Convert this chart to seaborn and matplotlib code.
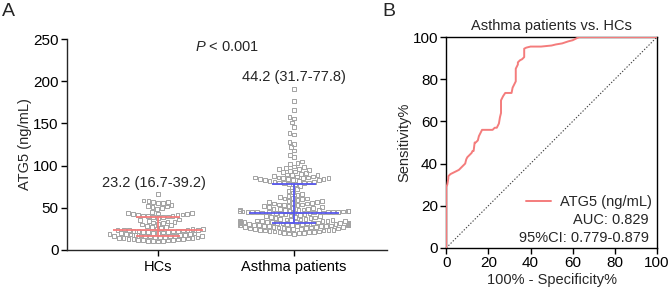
import matplotlib
matplotlib.use("Agg")
import matplotlib.pyplot as plt
import seaborn as sns
import pandas as pd
import numpy as np

# ---------------- data ----------------
groups = ["HCs", "Asthma patients"]

hcs_values = [
    66.0,
    58.5, 57.9, 57.2, 56.8, 56.1, 55.4,
    53.0, 52.1, 51.4, 50.6, 49.8, 48.7,
    44.6, 44.1, 43.7, 43.2, 42.8, 42.4, 42.0, 41.6, 41.2, 40.9, 40.5, 40.1, 39.8, 39.5,
    39.2, 37.5, 36.0, 35.2, 34.6, 33.8, 33.1, 32.5, 31.9, 31.0, 30.2, 29.4, 28.5,
    27.6, 26.8, 26.0, 25.4, 25.0, 24.7, 24.4, 24.1, 23.8, 23.5, 23.3,
    23.1, 22.8, 22.5, 22.2, 21.9, 21.6, 21.3, 21.0, 20.7, 20.4, 20.1, 19.8, 19.5,
    19.2, 18.9, 18.6, 18.3, 18.0, 17.7, 17.4, 17.1, 16.9, 16.8, 16.7,
    16.5, 16.2, 15.9, 15.6, 15.3, 15.0, 14.7, 14.4, 14.1, 13.8, 13.5, 13.2,
    12.9, 12.6, 12.3, 12.0, 11.7, 11.4, 11.1, 10.8, 10.5, 10.2, 9.9,
]

asthma_values = [
    191, 177, 166, 158, 156, 151, 146, 139, 137, 128, 126, 122, 118, 113, 110,
    105, 103, 102,
    99, 98, 97, 96, 96, 95, 94, 93, 92, 91, 90, 89.5, 89, 88.5,
    88, 87, 87, 86, 86, 86, 85, 85, 85, 84, 84, 84, 83, 83, 83, 82, 82, 81, 81,
    80, 80, 79, 79, 78.5, 78,
    76, 74, 72, 70, 68, 66, 65, 64, 63, 62, 61, 61, 60, 59, 58, 58, 57, 57,
    56, 56, 55, 55, 54, 54, 53, 53, 52, 52, 51, 51, 50, 50, 49, 49, 48.5, 48,
    48, 47.5, 47, 47, 46.5, 46.5, 46, 46, 45.5, 45.5, 45, 45, 45, 44.8, 44.8,
    44.6, 44.6, 44.5, 44.4, 44.4, 44.3,
    44, 43.5, 43, 42.5, 42, 41.5, 41, 40.5, 40, 39.5, 39, 38.5, 38, 37.5, 37,
    36.5, 36, 36, 35.5, 35.5, 35, 35, 34.5, 34.5, 34, 34, 33.5, 33.5, 33, 33,
    33, 32.5, 32.5, 32.5, 32, 32, 32, 31.8, 31.8, 31.7,
    31.5, 31.5, 31, 31, 31, 30.5, 30.5, 30, 30, 30, 29.5, 29.5, 29, 29, 29,
    28.5, 28.5, 28, 28, 28, 27.5, 27.5, 27, 27, 26.5, 26.5, 26, 26, 25.5, 25.5,
    25, 25, 24.5, 24.5, 24, 24, 23.5, 23, 23, 22.5, 22, 22, 21.5, 21, 21, 20.5,
    20, 20, 19.5, 19,
]

# median and interquartile range (as annotated)
medians = [23.2, 44.2]
q1s = [16.7, 31.7]
q3s = [39.2, 77.8]
stat_labels = ["23.2 (16.7-39.2)", "44.2 (31.7-77.8)"]
p_label = r"$\mathit{P}$ < 0.001"

# ROC curve (percent)
roc_fpr = [0, 0, 0.5, 1, 1, 2, 3, 4, 5, 6, 7, 8, 9, 9.5, 10, 11, 12, 12.5, 13,
           13.5, 14, 15, 15.5, 16, 17, 20, 22, 23, 24, 24.5, 25, 25.5, 26, 26,
           27, 28, 29, 31, 31.5, 32, 33, 33, 34, 34, 35, 36, 37, 37, 38, 40, 45,
           50, 52, 55, 58, 60, 62, 63, 100]
roc_tpr = [0, 29, 30, 33, 34, 35, 35.5, 36, 36.5, 37, 38, 39, 40, 42, 43, 44,
           45, 46, 46, 50, 50, 51, 53, 54, 56, 56, 56, 57, 57, 58, 59, 62, 64,
           70, 72, 73.5, 73.5, 73.5, 76, 77, 79, 85, 87, 88, 89, 89.5, 90.5,
           94.5, 95, 95.5, 95.5, 96, 96.5, 97, 98, 98.5, 99.5, 100, 100]
roc_label = "ATG5 (ng/mL)"
auc_text = "AUC: 0.829"
ci_text = "95%CI: 0.779-0.879"

# ---------------- style ----------------
sns.set_theme(style="ticks")
plt.rcParams["font.family"] = ["Liberation Sans", "DejaVu Sans"]
plt.rcParams["mathtext.fontset"] = "custom"
plt.rcParams["mathtext.rm"] = "Liberation Sans"
plt.rcParams["mathtext.it"] = "Liberation Sans:italic"
plt.rcParams["axes.linewidth"] = 1.0
plt.rcParams["xtick.major.width"] = 1.0
plt.rcParams["ytick.major.width"] = 1.0
plt.rcParams["xtick.major.size"] = 4
plt.rcParams["ytick.major.size"] = 4

RED = "#F47C7C"
BLUE = "#5757EE"
GRAY = "#A3A3A3"

fig = plt.figure(figsize=(6.69, 2.92), dpi=100)

# ---------------- panel A ----------------
axA = fig.add_axes([0.100, 0.144, 0.478, 0.722])
df = pd.DataFrame({
    "group": [groups[0]] * len(hcs_values) + [groups[1]] * len(asthma_values),
    "value": hcs_values + asthma_values,
})
sns.swarmplot(data=df, x="group", y="value", order=groups, ax=axA,
              marker="s", size=2.7, color=GRAY, linewidth=0.7,
              edgecolor=GRAY, warn_thresh=1.0)
for coll in axA.collections:
    coll.set_facecolor("none")
    coll.set_edgecolor(GRAY)
    coll.set_linewidth(0.7)

line_colors = [RED, BLUE]
for i, (med, lo, hi, c) in enumerate(zip(medians, q1s, q3s, line_colors)):
    axA.hlines(med, i - 0.33, i + 0.33, color=c, lw=1.3, zorder=5)
    axA.hlines([lo, hi], i - 0.16, i + 0.16, color=c, lw=1.3, zorder=5)
    axA.vlines(i, lo, hi, color=c, lw=1.3, zorder=5)

axA.set_xlim(-0.67, 1.68)
axA.set_ylim(0, 250)
axA.set_yticks([0, 50, 100, 150, 200, 250])
axA.set_xlabel("")
axA.set_ylabel("ATG5 (ng/mL)", fontsize=10.5, labelpad=1)
axA.tick_params(axis="y", labelsize=11, colors="black", pad=2)
axA.tick_params(axis="x", labelsize=10.5, colors="black", pad=3)
sns.despine(ax=axA)
axA.text(-0.03, 79.5, stat_labels[0], ha="center", va="center", fontsize=10.5)
axA.text(1.0, 205, stat_labels[1], ha="center", va="center", fontsize=10.5)
axA.text(0.507, 240.5, p_label, ha="center", va="center", fontsize=10.5)

# ---------------- panel B ----------------
axB = fig.add_axes([0.667, 0.151, 0.315, 0.722])
roc_df = pd.DataFrame({"fpr": roc_fpr, "tpr": roc_tpr})
sns.lineplot(data=roc_df, x="fpr", y="tpr", sort=False, estimator=None,
             color=RED, lw=1.4, ax=axB, label=roc_label, zorder=4)
axB.plot([0, 100], [0, 100], ls=(0, (1.2, 1.6)), color="#444444", lw=0.8,
         zorder=3)
axB.set_xlim(0, 100)
axB.set_ylim(0, 100)
axB.set_xticks([0, 20, 40, 60, 80, 100])
axB.set_yticks([0, 20, 40, 60, 80, 100])
axB.set_xlabel("100% - Specificity%", fontsize=10.5, labelpad=2)
axB.set_ylabel("Sensitivity%", fontsize=10.5, labelpad=1)
axB.set_title("Asthma patients vs. HCs", fontsize=10.5, pad=5)
axB.tick_params(labelsize=11, colors="black", pad=2)
for sp in axB.spines.values():
    sp.set_visible(True)
    sp.set_color("black")
leg = axB.legend(loc="center right", frameon=False, fontsize=10.5,
                 handlelength=1.7, handletextpad=0.6,
                 bbox_to_anchor=(0.975, 0.218), borderaxespad=0.0,
                 borderpad=0.0)
axB.text(0.962, 0.133, auc_text, transform=axB.transAxes, ha="right",
         va="center", fontsize=10.5)
axB.text(0.962, 0.047, ci_text, transform=axB.transAxes, ha="right",
         va="center", fontsize=10.5)

# panel letters
fig.text(0.003, 0.96, "A", fontsize=14, va="center", ha="left")
fig.text(0.572, 0.96, "B", fontsize=14, va="center", ha="left")

fig.savefig("out.png", dpi=100)
